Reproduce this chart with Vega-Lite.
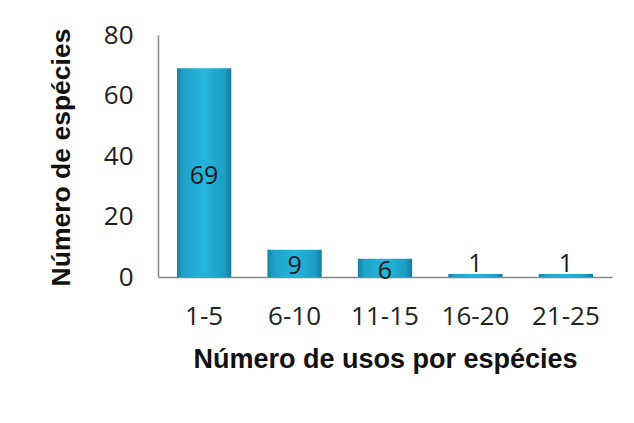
{
  "$schema": "https://vega.github.io/schema/vega-lite/v6.json",
  "autosize": "none",
  "width": 454,
  "height": 242,
  "padding": {"left": 158, "top": 35, "right": 22, "bottom": 146},
  "background": "white",
  "config": {"view": {"stroke": null}},
  "data": {"values": [
    {"usos": "1-5", "n": 69},
    {"usos": "6-10", "n": 9},
    {"usos": "11-15", "n": 6},
    {"usos": "16-20", "n": 1},
    {"usos": "21-25", "n": 1}
  ]},
  "encoding": {
    "x": {
      "field": "usos", "type": "nominal", "sort": null,
      "scale": {"paddingInner": 0.4, "paddingOuter": 0.21},
      "axis": {
        "title": "Número de usos por espécies",
        "labelAngle": 0, "ticks": false,
        "labelFont": "Open Sans", "labelFontSize": 26, "labelColor": "#222222",
        "labelBaseline": "middle", "labelPadding": 39,
        "domainColor": "#888888", "domainWidth": 1.5,
        "titleFont": "Liberation Sans", "titleFontSize": 27, "titleFontWeight": "bold", "titleColor": "#111111",
        "titleBaseline": "alphabetic", "titleY": 90
      }
    },
    "y": {
      "field": "n", "type": "quantitative",
      "scale": {"domain": [0, 80], "nice": false},
      "axis": {
        "title": "Número de espécies",
        "values": [0, 20, 40, 60, 80], "grid": false, "ticks": false,
        "labelFont": "Open Sans", "labelFontSize": 26, "labelColor": "#222222",
        "labelPadding": 25,
        "domainColor": "#888888", "domainWidth": 1.5,
        "titleFont": "Liberation Sans", "titleFontSize": 26.5, "titleFontWeight": "bold", "titleColor": "#111111",
        "titleAngle": 270, "titleBaseline": "alphabetic", "titleAlign": "center",
        "titleX": -89, "titleY": 122
      }
    }
  },
  "layer": [
    {
      "mark": {
        "type": "bar",
        "color": {
          "gradient": "linear", "x1": 0, "x2": 1, "y1": 0, "y2": 0,
          "stops": [
            {"offset": 0, "color": "#17809f"},
            {"offset": 0.12, "color": "#1fa2c9"},
            {"offset": 0.5, "color": "#24b6dd"},
            {"offset": 0.88, "color": "#1d9dc4"},
            {"offset": 1, "color": "#157a99"}
          ]
        }
      }
    },
    {
      "transform": [{"filter": "datum.n > 3"}],
      "mark": {"type": "text", "font": "Open Sans", "fontSize": 25, "color": "#1a1a1a", "baseline": "middle", "dy": 3},
      "encoding": {
        "y": {"field": "n", "type": "quantitative", "stack": "zero", "bandPosition": 0.5},
        "text": {"field": "n", "type": "quantitative"}
      }
    },
    {
      "transform": [{"filter": "datum.n <= 3"}],
      "mark": {"type": "text", "font": "Open Sans", "fontSize": 25, "color": "#1a1a1a", "baseline": "middle", "dy": -10},
      "encoding": {
        "text": {"field": "n", "type": "quantitative"}
      }
    }
  ]
}
